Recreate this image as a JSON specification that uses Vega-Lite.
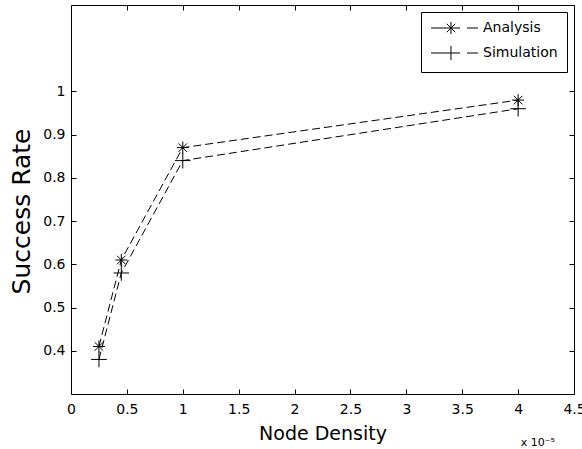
{
  "$schema": "https://vega.github.io/schema/vega-lite/v6.json",
  "width": 503,
  "height": 389,
  "autosize": {"type": "none"},
  "padding": {"left": 71, "top": 5, "right": 8, "bottom": 55},
  "background": "white",
  "config": {
    "font": "DejaVu Sans",
    "view": {"stroke": "black", "strokeWidth": 1},
    "axis": {
      "grid": false, "domain": false, "tickColor": "black", "tickSize": 5, "tickWidth": 1, "offset": -5,
      "labelColor": "black", "labelFontSize": 14, "labelFont": "DejaVu Sans",
      "titleFont": "DejaVu Sans", "titleFontSize": 19, "titleFontWeight": "normal", "titleColor": "black"
    }
  },
  "data": {
    "values": [
      {"density": 0.25, "rate": 0.41, "series": "Analysis"},
      {"density": 0.45, "rate": 0.61, "series": "Analysis"},
      {"density": 1.0, "rate": 0.87, "series": "Analysis"},
      {"density": 4.0, "rate": 0.98, "series": "Analysis"},
      {"density": 0.25, "rate": 0.38, "series": "Simulation"},
      {"density": 0.45, "rate": 0.58, "series": "Simulation"},
      {"density": 1.0, "rate": 0.84, "series": "Simulation"},
      {"density": 4.0, "rate": 0.96, "series": "Simulation"}
    ]
  },
  "layer": [
    {
      "mark": {"type": "line", "color": "black", "strokeWidth": 1, "strokeDash": [8, 4]},
      "encoding": {
        "x": {"field": "density", "type": "quantitative", "scale": {"domain": [0, 4.5], "nice": false},
          "axis": {"orient": "bottom", "offset": -5, "title": "Node Density", "values": [0, 0.5, 1, 1.5, 2, 2.5, 3, 3.5, 4, 4.5], "format": "~g", "labelPadding": 8, "titlePadding": 8, "labelFlush": false}},
        "y": {"field": "rate", "type": "quantitative", "scale": {"domain": [0.3, 1.2], "nice": false, "zero": false},
          "axis": {"orient": "left", "offset": -5, "title": "Success Rate", "titleFontSize": 25, "titleX": -47, "titleY": 206, "titleBaseline": "alphabetic",
            "values": [0.4, 0.5, 0.6, 0.7, 0.8, 0.9, 1], "format": "~g", "labelPadding": 6}},
        "detail": {"field": "series"}
      }
    },
    {
      "mark": {"type": "point", "filled": false, "color": "black", "strokeWidth": 1, "size": 144, "opacity": 1},
      "encoding": {
        "x": {"field": "density", "type": "quantitative",
          "axis": {"orient": "top", "offset": -5, "labels": false, "title": null, "values": [0, 0.5, 1, 1.5, 2, 2.5, 3, 3.5, 4, 4.5]}},
        "y": {"field": "rate", "type": "quantitative",
          "axis": {"orient": "right", "offset": -5, "labels": false, "title": null, "values": [0.4, 0.5, 0.6, 0.7, 0.8, 0.9, 1]}},
        "shape": {"field": "series", "type": "nominal",
          "scale": {"domain": ["Analysis", "Simulation"],
            "range": ["M-1,0L1,0M0,-1L0,1M-0.71,-0.71L0.71,0.71M-0.71,0.71L0.71,-0.71", "M-1.3,0L1.3,0M0,-1.3L0,1.3"]},
          "legend": null}
      }
    },
    {
      "mark": {"type": "point", "filled": false, "color": "black", "strokeWidth": 1, "size": 144, "opacity": 0},
      "encoding": {
        "x": {"field": "density", "type": "quantitative", "axis": null},
        "y": {"field": "rate", "type": "quantitative", "axis": null},
        "shape": {"field": "series", "type": "nominal",
          "scale": {"domain": ["Analysis", "Simulation"],
            "range": ["M-3.17,0L-3.17,0M-1,0L3.83,0M5,0L6.83,0M2.33,-1L2.33,1M1.62,-0.71L3.04,0.71M1.62,0.71L3.04,-0.71", "M-3.17,0L-3.17,0M-1,0L3.83,0M5,0L6.83,0M2.33,-1.2L2.33,1.2"]},
          "legend": {"title": null, "orient": "top-right", "offset": 7, "padding": 9, "strokeColor": "black", "fillColor": "white",
            "cornerRadius": 0, "symbolOpacity": 1, "symbolStrokeColor": "black", "symbolStrokeWidth": 1, "symbolSize": 144,
            "symbolFillColor": "transparent", "labelFontSize": 14, "labelColor": "black", "labelFont": "DejaVu Sans",
            "labelOffset": 39, "rowPadding": 7}}
      }
    },
    {
      "data": {"values": [{"label": "x 10⁻⁵"}]},
      "mark": {"type": "text", "align": "right", "baseline": "alphabetic", "fontSize": 11, "dy": 52, "color": "black"},
      "encoding": {
        "x": {"datum": 4.33, "type": "quantitative", "axis": null},
        "y": {"datum": 0.3, "type": "quantitative", "axis": null},
        "text": {"field": "label"}
      }
    }
  ],
  "resolve": {"scale": {"shape": "independent"}, "axis": {"x": "independent", "y": "independent"}}
}
